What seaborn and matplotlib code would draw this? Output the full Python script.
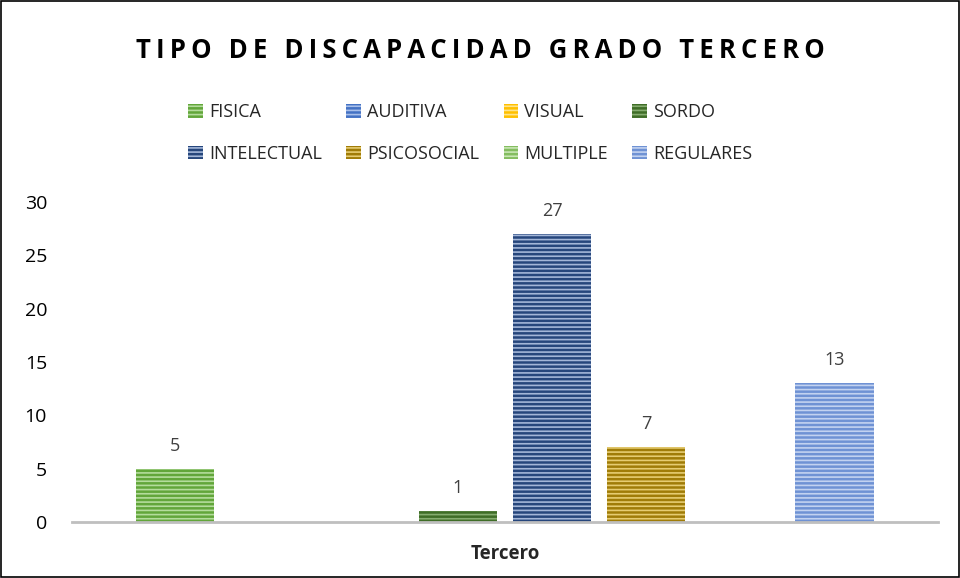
import pandas as pd
import matplotlib.pyplot as plt
import matplotlib.patches as mpatches
import seaborn as sns
import numpy as np

# Data
grado = ['Tercero']
categorias = ['FISICA', 'AUDITIVA', 'VISUAL', 'SORDO',
              'INTELECTUAL', 'PSICOSOCIAL', 'MULTIPLE', 'REGULARES']
valores = [5, 0, 0, 1, 27, 7, 0, 13]

# Colors (base, stripe)
colores = ['#62a63a', '#4472c4', '#ffc000', '#3f6d27',
           '#26467c', '#a07c08', '#84bd60', '#6f92d4']
rayas = ['#b4dc9c', '#a9c0ea', '#ffe48a', '#86ad70',
         '#a3b6d8', '#e6cc72', '#c8e6b4', '#c2d2f0']

data = pd.DataFrame({'grado': grado * len(categorias),
                     'tipo': categorias,
                     'valor': valores})

sns.set_theme(style='white')
plt.rcParams['font.family'] = ['Open Sans', 'DejaVu Sans']
plt.rcParams['hatch.linewidth'] = 1.2

fig = plt.figure(figsize=(9.6, 5.78), dpi=100)
ax = fig.add_axes([0.075, 0.0969, 0.902, 0.5536])

sns.barplot(data=data, x='grado', y='valor', hue='tipo', hue_order=categorias,
            palette=colores, width=0.87, gap=0.17, legend=False, ax=ax,
            linewidth=0, saturation=1)

for cont, c, r in zip(ax.containers, colores, rayas):
    for p in cont.patches:
        p.set_facecolor(c)
        p.set_hatch('----')
        p.set_edgecolor(r)
        p.set_linewidth(0)
    labels = ['' if v == 0 else f'{int(v)}' for v in cont.datavalues]
    ax.bar_label(cont, labels=labels, padding=10, fontsize=13, color='#404040')

ax.set_ylim(0, 30)
ax.set_yticks(range(0, 31, 5))
ax.set_xlim(-0.5, 0.5)
ax.set_xlabel('')
ax.set_ylabel('')
ax.tick_params(axis='y', length=0, labelsize=14, labelcolor='#000000', pad=18)
ax.tick_params(axis='x', length=0, labelsize=13.5, pad=16)
for t in ax.get_xticklabels():
    t.set_fontweight('bold')
sns.despine(ax=ax, left=True)
ax.spines['bottom'].set_color('#bfbfbf')
ax.spines['bottom'].set_linewidth(2)

# legend, filled row by row
orden = [0, 4, 1, 5, 2, 6, 3, 7]
ax.legend([ax.containers[i] for i in orden], [categorias[i] for i in orden],
          ncol=4, loc='lower center',
          bbox_to_anchor=(0.46, 1.1), frameon=False, fontsize=13,
          handlelength=0.8, handleheight=0.8, handletextpad=0.35,
          columnspacing=1.35, labelspacing=1.3, borderaxespad=0)

titulo = 'TIPO DE DISCAPACIDAD GRADO TERCERO'
titulo_esp = '\u2009 \u2009'.join('\u2009'.join(w) for w in titulo.split(' '))
fig.text(0.5, 0.913, titulo_esp, ha='center', va='center',
         fontsize=18.5, fontweight='bold', color='#000000')

fig.patches.append(mpatches.Rectangle((0.001, 0.001), 0.998, 0.998,
                                      transform=fig.transFigure, fill=False,
                                      edgecolor='black', linewidth=1.2))

fig.savefig('out.png', dpi=100)
